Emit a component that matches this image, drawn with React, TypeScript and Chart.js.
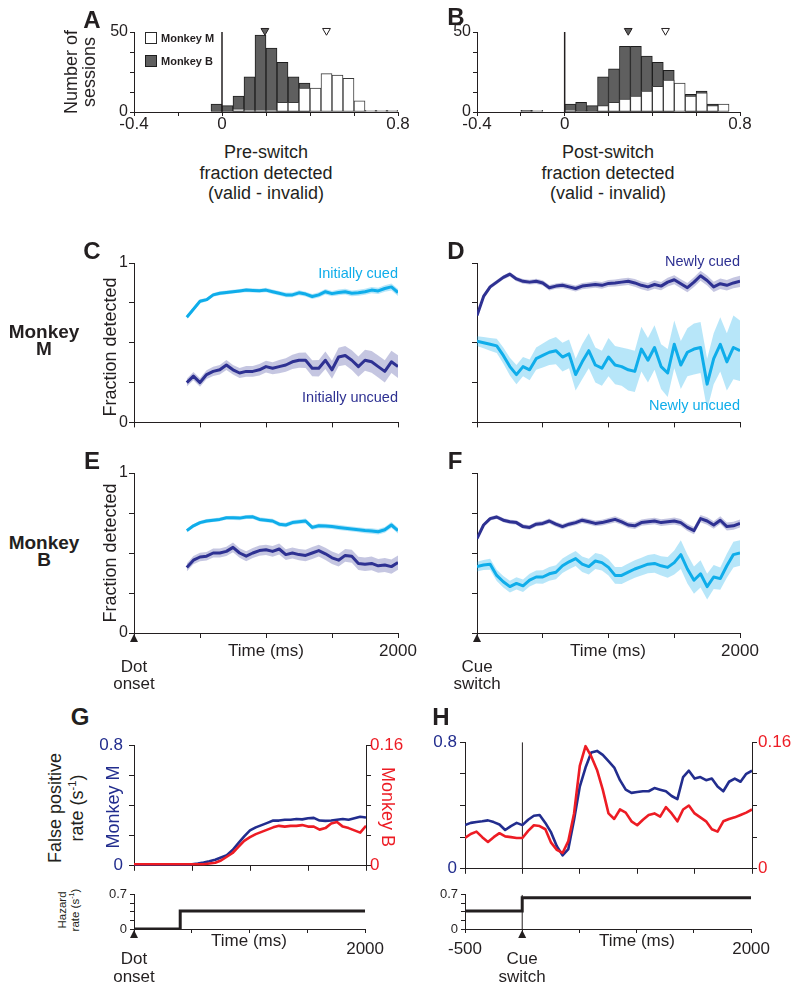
import React, { useEffect, useRef } from "react";
import { Chart, registerables } from "chart.js";

Chart.register(...registerables);

const FONT = "'Liberation Sans', Arial, Helvetica, sans-serif";
const INK = "#231f20";
const CYAN = "#0fadea";
const NAVY = "#2e3192";
const CYAN_BAND = "rgba(15,173,234,0.30)";
const NAVY_BAND = "rgba(46,49,146,0.28)";
const BLUE = "#222d8e";
const RED = "#ed1c24";
const GRAY_BAR = "#5f5f5f";

// ---------- A / B : histograms ----------
const histTicksX = [-0.4, -0.2, 0, 0.2, 0.4, 0.6, 0.8];
const histLabelsX = ["-0.4", "", "0", "", "", "", "0.8"];
const histTicksY = [0, 12.5, 25, 37.5, 50];
const histLabelsY = ["0", "", "", "", "50"];

const binsA = [-0.025, 0.025, 0.075, 0.125, 0.175, 0.225, 0.275, 0.325, 0.375, 0.425, 0.475, 0.525, 0.575, 0.625, 0.675, 0.725, 0.775];
const preSwitchB = [5, 4, 10, 22, 48, 40, 31, 22, 18, 0, 0, 0, 0, 0, 0, 0, 0];
const preSwitchM = [0, 0, 2, 1, 1, 1, 6, 6, 15, 15, 24, 23, 21, 7, 1, 1, 1];
const preMeanB = 0.195;
const preMeanM = 0.475;

const binsB = [-0.175, -0.125, -0.075, -0.025, 0.025, 0.075, 0.125, 0.175, 0.225, 0.275, 0.325, 0.375, 0.425, 0.475, 0.525, 0.575, 0.625, 0.675, 0.725];
const postSwitchB = [1, 0, 0, 0, 5, 6, 4, 22, 27, 41, 41, 35, 31, 26, 0, 11, 13, 5, 0];
const postSwitchM = [0, 1, 0, 0, 1, 0, 0, 4, 6, 8, 10, 13, 16, 20, 18, 10, 12, 4, 5];
const postMeanB = 0.29;
const postMeanM = 0.46;

// ---------- C-F : fraction detected ----------
const timeTicks = [0, 500, 1000, 1500, 2000];
const timeLabelsNone = ["", "", "", "", ""];
const timeLabelsEnd = ["", "", "", "", "2000"];
const fracTicks = [0, 0.25, 0.5, 0.75, 1];
const fracLabels = ["0", "", "", "", "1"];
const fracLabelsNone = ["", "", "", "", ""];

const tPre = [400, 450, 500, 550, 600, 650, 700, 750, 800, 850, 900, 950, 1000, 1050, 1100, 1150, 1200, 1250, 1300, 1350, 1400, 1450, 1500, 1550, 1600, 1650, 1700, 1750, 1800, 1850, 1900, 1950, 2000];
const tPost = [0, 50, 100, 150, 200, 250, 300, 350, 400, 450, 500, 550, 600, 650, 700, 750, 800, 850, 900, 950, 1000, 1050, 1100, 1150, 1200, 1250, 1300, 1350, 1400, 1450, 1500, 1550, 1600, 1650, 1700, 1750, 1800, 1850, 1900, 1950, 2000];

// C: Monkey M, pre-switch
const mInitCued = [0.66, 0.71, 0.76, 0.77, 0.8, 0.81, 0.815, 0.82, 0.825, 0.83, 0.828, 0.826, 0.83, 0.82, 0.81, 0.8, 0.8, 0.813, 0.805, 0.79, 0.8, 0.82, 0.808, 0.815, 0.82, 0.81, 0.813, 0.82, 0.83, 0.825, 0.84, 0.85, 0.815];
const mInitCuedErr = [0.012, 0.012, 0.012, 0.011, 0.012, 0.012, 0.013, 0.012, 0.012, 0.013, 0.013, 0.013, 0.014, 0.014, 0.014, 0.015, 0.015, 0.016, 0.015, 0.016, 0.016, 0.017, 0.017, 0.018, 0.018, 0.018, 0.019, 0.019, 0.02, 0.02, 0.021, 0.022, 0.022];
const mInitUncued = [0.25, 0.29, 0.25, 0.3, 0.32, 0.33, 0.36, 0.33, 0.31, 0.32, 0.32, 0.33, 0.35, 0.34, 0.35, 0.36, 0.38, 0.39, 0.39, 0.34, 0.34, 0.39, 0.33, 0.41, 0.42, 0.39, 0.35, 0.39, 0.38, 0.35, 0.32, 0.38, 0.35];
const mInitUncuedErr = [0.024, 0.026, 0.027, 0.027, 0.029, 0.03, 0.031, 0.03, 0.032, 0.034, 0.034, 0.036, 0.037, 0.038, 0.041, 0.043, 0.045, 0.047, 0.048, 0.05, 0.052, 0.055, 0.056, 0.058, 0.06, 0.062, 0.063, 0.066, 0.068, 0.069, 0.07, 0.07, 0.071];

// D: Monkey M, post-switch
const mNewCued = [0.67, 0.79, 0.85, 0.88, 0.91, 0.93, 0.9, 0.885, 0.88, 0.885, 0.875, 0.845, 0.855, 0.86, 0.85, 0.84, 0.855, 0.86, 0.865, 0.86, 0.872, 0.875, 0.88, 0.885, 0.875, 0.86, 0.85, 0.865, 0.855, 0.88, 0.895, 0.87, 0.845, 0.88, 0.92, 0.89, 0.85, 0.87, 0.86, 0.875, 0.885];
const mNewCuedErr = [0.012, 0.012, 0.013, 0.013, 0.013, 0.014, 0.014, 0.015, 0.015, 0.016, 0.016, 0.017, 0.017, 0.018, 0.018, 0.019, 0.019, 0.02, 0.02, 0.021, 0.021, 0.022, 0.022, 0.023, 0.024, 0.024, 0.025, 0.026, 0.026, 0.027, 0.028, 0.028, 0.029, 0.03, 0.031, 0.031, 0.032, 0.033, 0.033, 0.034, 0.035];
const mNewUncued = [0.51, 0.5, 0.49, 0.48, 0.42, 0.35, 0.3, 0.35, 0.33, 0.4, 0.42, 0.44, 0.45, 0.41, 0.43, 0.3, 0.38, 0.45, 0.36, 0.34, 0.41, 0.36, 0.35, 0.33, 0.32, 0.46, 0.39, 0.47, 0.35, 0.31, 0.49, 0.36, 0.44, 0.46, 0.47, 0.24, 0.4, 0.49, 0.38, 0.47, 0.45];
const mNewUncuedErr = [0.03, 0.035, 0.04, 0.045, 0.05, 0.055, 0.06, 0.06, 0.065, 0.07, 0.075, 0.08, 0.085, 0.09, 0.09, 0.1, 0.11, 0.11, 0.11, 0.11, 0.12, 0.12, 0.12, 0.13, 0.13, 0.14, 0.14, 0.14, 0.14, 0.15, 0.15, 0.15, 0.15, 0.16, 0.16, 0.16, 0.16, 0.17, 0.18, 0.2, 0.19];

// E: Monkey B, pre-switch
const bInitCued = [0.64, 0.67, 0.69, 0.7, 0.705, 0.71, 0.72, 0.72, 0.718, 0.725, 0.726, 0.71, 0.705, 0.7, 0.68, 0.675, 0.69, 0.695, 0.7, 0.66, 0.67, 0.668, 0.665, 0.66, 0.655, 0.65, 0.645, 0.64, 0.638, 0.633, 0.645, 0.675, 0.64];
const bInitCuedErr = [0.012, 0.012, 0.012, 0.012, 0.012, 0.012, 0.012, 0.013, 0.013, 0.013, 0.013, 0.013, 0.013, 0.014, 0.014, 0.014, 0.014, 0.014, 0.015, 0.015, 0.015, 0.015, 0.015, 0.016, 0.016, 0.016, 0.016, 0.017, 0.017, 0.017, 0.018, 0.018, 0.018];
const bInitUncued = [0.41, 0.455, 0.475, 0.48, 0.5, 0.5, 0.51, 0.535, 0.5, 0.48, 0.5, 0.515, 0.52, 0.51, 0.525, 0.49, 0.5, 0.49, 0.485, 0.5, 0.515, 0.495, 0.47, 0.455, 0.485, 0.48, 0.435, 0.43, 0.435, 0.42, 0.425, 0.415, 0.44];
const bInitUncuedErr = [0.025, 0.026, 0.027, 0.027, 0.028, 0.028, 0.029, 0.03, 0.03, 0.031, 0.031, 0.032, 0.032, 0.033, 0.034, 0.034, 0.035, 0.035, 0.036, 0.037, 0.037, 0.038, 0.039, 0.039, 0.04, 0.041, 0.041, 0.042, 0.043, 0.043, 0.044, 0.045, 0.045];

// F: Monkey B, post-switch
const bNewCued = [0.59, 0.675, 0.715, 0.725, 0.705, 0.695, 0.69, 0.665, 0.66, 0.68, 0.685, 0.7, 0.68, 0.665, 0.68, 0.69, 0.705, 0.695, 0.685, 0.69, 0.7, 0.71, 0.695, 0.675, 0.67, 0.69, 0.695, 0.7, 0.69, 0.695, 0.7, 0.69, 0.66, 0.64, 0.715, 0.7, 0.675, 0.705, 0.665, 0.67, 0.685];
const bNewCuedErr = [0.012, 0.012, 0.012, 0.013, 0.013, 0.013, 0.014, 0.014, 0.014, 0.015, 0.015, 0.015, 0.016, 0.016, 0.016, 0.017, 0.017, 0.017, 0.018, 0.018, 0.018, 0.019, 0.019, 0.019, 0.02, 0.02, 0.02, 0.021, 0.021, 0.021, 0.022, 0.022, 0.023, 0.023, 0.023, 0.024, 0.024, 0.024, 0.025, 0.025, 0.025];
const bNewUncued = [0.415, 0.425, 0.43, 0.36, 0.32, 0.29, 0.31, 0.295, 0.33, 0.35, 0.35, 0.37, 0.38, 0.42, 0.445, 0.465, 0.43, 0.415, 0.45, 0.44, 0.41, 0.36, 0.36, 0.38, 0.4, 0.415, 0.43, 0.435, 0.42, 0.41, 0.44, 0.49, 0.4, 0.33, 0.37, 0.29, 0.35, 0.34, 0.42, 0.49, 0.5];
const bNewUncuedErr = [0.03, 0.032, 0.034, 0.035, 0.036, 0.037, 0.038, 0.039, 0.04, 0.041, 0.042, 0.043, 0.044, 0.045, 0.046, 0.047, 0.048, 0.049, 0.05, 0.05, 0.051, 0.052, 0.053, 0.054, 0.055, 0.056, 0.057, 0.058, 0.06, 0.065, 0.075, 0.09, 0.09, 0.085, 0.085, 0.08, 0.075, 0.07, 0.075, 0.08, 0.08];

// ---------- G / H : false positive rates and hazard ----------
const rateMTicks = [0, 0.2, 0.4, 0.6, 0.8];
const rateMLabels = ["0", "", "", "", "0.8"];
const rateBTicks = [0, 0.04, 0.08, 0.12, 0.16];
const rateBLabels = ["0", "", "", "", "0.16"];
const hazTicks = [0, 0.175, 0.35, 0.525, 0.7];
const hazLabels = ["0", "", "", "", "0.7"];
const switchTicks = [-500, 0, 500, 1000, 1500, 2000];
const switchLabelsNone = ["", "", "", "", "", ""];
const switchLabels = ["-500", "", "", "", "", "2000"];

const tOnset = tPost;
const fpOnsetM = [0.005, 0.005, 0.005, 0.005, 0.005, 0.005, 0.005, 0.005, 0.005, 0.005, 0.01, 0.015, 0.022, 0.03, 0.04, 0.055, 0.07, 0.105, 0.15, 0.195, 0.235, 0.255, 0.27, 0.285, 0.3, 0.3, 0.305, 0.305, 0.31, 0.308, 0.315, 0.318, 0.3, 0.298, 0.3, 0.305, 0.31, 0.305, 0.315, 0.325, 0.32];
const fpOnsetB = [0.002, 0.002, 0.002, 0.002, 0.002, 0.002, 0.002, 0.002, 0.002, 0.002, 0.002, 0.002, 0.002, 0.003, 0.004, 0.007, 0.012, 0.017, 0.025, 0.033, 0.038, 0.042, 0.045, 0.048, 0.051, 0.053, 0.052, 0.053, 0.053, 0.054, 0.052, 0.052, 0.048, 0.05, 0.056, 0.058, 0.052, 0.05, 0.047, 0.044, 0.053];

const tSwitch = [-500, -450, -400, -350, -300, -250, -200, -150, -100, -50, 0, 50, 100, 150, 200, 250, 300, 350, 400, 450, 500, 550, 600, 650, 700, 750, 800, 850, 900, 950, 1000, 1050, 1100, 1150, 1200, 1250, 1300, 1350, 1400, 1450, 1500, 1550, 1600, 1650, 1700, 1750, 1800, 1850, 1900, 1950, 2000];
const fpSwitchM = [0.276, 0.29, 0.296, 0.3, 0.306, 0.295, 0.28, 0.245, 0.27, 0.29, 0.276, 0.31, 0.335, 0.34, 0.29, 0.23, 0.143, 0.085, 0.125, 0.31, 0.52, 0.64, 0.735, 0.745, 0.72, 0.68, 0.64, 0.56, 0.5, 0.48, 0.485, 0.49, 0.49, 0.51, 0.5, 0.49, 0.46, 0.44, 0.58, 0.62, 0.57, 0.58, 0.56, 0.57, 0.52, 0.49, 0.55, 0.57, 0.55, 0.6, 0.62];
const fpSwitchB = [0.039, 0.044, 0.047, 0.04, 0.034, 0.04, 0.045, 0.041, 0.04, 0.039, 0.039, 0.048, 0.055, 0.054, 0.05, 0.033, 0.024, 0.02, 0.035, 0.07, 0.13, 0.155, 0.142, 0.125, 0.1, 0.07, 0.063, 0.075, 0.071, 0.06, 0.055, 0.062, 0.068, 0.07, 0.066, 0.078, 0.07, 0.06, 0.075, 0.08, 0.07, 0.065, 0.06, 0.05, 0.047, 0.06, 0.063, 0.065, 0.068, 0.071, 0.075];

const hazOnsetT = [0, 400, 400, 2000];
const hazOnsetV = [0, 0, 0.37, 0.37];
const hazSwitchT = [-500, 0, 0, 2000];
const hazSwitchV = [0.37, 0.37, 0.64, 0.64];

// ---------- helpers ----------
type Box = { l: number; t: number; r: number; b: number };

const pts = (xs: number[], ys: (number | null)[]) => xs.map((x, i) => ({ x, y: ys[i] }));

function scale(o: {
  pos: string; min: number; max: number; ticks: number[]; labels: string[]; size: number;
  color?: string; font?: number; pad?: number; tl?: number;
}) {
  const horiz = o.pos === "bottom";
  return {
    type: "linear",
    position: o.pos,
    min: o.min,
    max: o.max,
    offset: false,
    afterBuildTicks: (s: any) => {
      s.ticks = o.ticks.map((v) => ({ value: v }));
    },
    afterFit: (s: any) => {
      if (horiz) s.height = o.size;
      else s.width = o.size;
    },
    border: { display: true, color: INK, width: 1 },
    grid: { display: true, drawOnChartArea: false, drawTicks: true, tickLength: o.tl ?? 5, color: INK, tickColor: INK, tickWidth: 1, offset: false },
    ticks: {
      autoSkip: false, maxRotation: 0, minRotation: 0, padding: o.pad ?? 3,
      color: o.color ?? INK, font: { family: FONT, size: o.font ?? 16 },
      callback: (_v: any, i: number) => o.labels[i] ?? "",
    },
  };
}

function baseOptions(m: Box, scales: any, rightAxis: boolean, plugins: any = {}) {
  return {
    animation: false,
    responsive: false,
    devicePixelRatio: 1,
    events: [],
    layout: { autoPadding: false, padding: { left: 0, top: m.t, right: rightAxis ? 0 : m.r, bottom: 0 } },
    plugins: { legend: { display: false }, tooltip: { enabled: false }, ...plugins },
    scales,
  };
}

const onsetArrow = {
  id: "onsetArrow",
  afterDraw(chart: any, _a: any, opts: any) {
    if (opts == null || opts.at == null) return;
    const x = chart.scales.x.getPixelForValue(opts.at);
    const y = chart.chartArea.bottom;
    const ctx = chart.ctx;
    ctx.save();
    ctx.fillStyle = INK;
    ctx.beginPath();
    ctx.moveTo(x, y + 1);
    ctx.lineTo(x - 4, y + 9);
    ctx.lineTo(x + 4, y + 9);
    ctx.closePath();
    ctx.fill();
    ctx.restore();
  },
};

function line(xs: number[], ys: number[], color: string, width: number, yAxisID = "y") {
  return { type: "line", data: pts(xs, ys), borderColor: color, borderWidth: width, pointRadius: 0, fill: false, tension: 0, yAxisID, borderJoinStyle: "round" };
}

function band(xs: number[], ys: number[], err: number[], color: string) {
  return [
    { type: "line", data: pts(xs, ys.map((v, i) => v - err[i])), borderColor: "transparent", borderWidth: 0, pointRadius: 0, fill: false, tension: 0 },
    { type: "line", data: pts(xs, ys.map((v, i) => v + err[i])), borderColor: "transparent", borderWidth: 0, pointRadius: 0, fill: "-1", backgroundColor: color, tension: 0 },
  ];
}

function ChartPanel({ area, margin, config }: { area: Box; margin: Box; config: () => any }) {
  const ref = useRef<HTMLCanvasElement>(null);
  const w = area.r - area.l + margin.l + margin.r;
  const h = area.b - area.t + margin.t + margin.b;
  useEffect(() => {
    const chart = new Chart(ref.current as HTMLCanvasElement, config());
    return () => chart.destroy();
  }, []);
  return (
    <canvas
      ref={ref}
      width={w}
      height={h}
      style={{ position: "absolute", left: area.l - margin.l, top: area.t - margin.t, width: w, height: h }}
    />
  );
}

function Txt(p: { x: number; y: number; size?: number; color?: string; bold?: boolean; align?: string; rot?: number; lh?: number; children: any }) {
  const tx = p.align === "right" ? "-100%" : p.align === "left" ? "0%" : "-50%";
  return (
    <div
      style={{
        position: "absolute", left: p.x, top: p.y,
        transform: `translate(${tx},-50%) rotate(${p.rot ?? 0}deg)`,
        fontFamily: FONT, fontSize: p.size ?? 16, color: p.color ?? INK,
        fontWeight: p.bold ? 700 : 400, lineHeight: p.lh ? `${p.lh}px` : 1.15,
        whiteSpace: "nowrap", textAlign: "center",
      }}
    >
      {p.children}
    </div>
  );
}

const Sup = ({ children }: any) => (
  <span style={{ fontSize: "0.62em", verticalAlign: "super", lineHeight: 0 }}>{children}</span>
);

// ---------- chart configurations ----------
function histConfig(m: Box, bins: number[], countsB: number[], countsM: number[], meanB: number, meanM: number) {
  return () => ({
    type: "bar",
    data: {
      datasets: [
        {
          type: "line", data: [{ x: meanB, y: 50.8 }], showLine: false, pointStyle: "triangle", rotation: 180,
          pointRadius: 4.5, pointBackgroundColor: GRAY_BAR, pointBorderColor: INK, pointBorderWidth: 1, clip: false,
        },
        {
          type: "line", data: [{ x: meanM, y: 50.8 }], showLine: false, pointStyle: "triangle", rotation: 180,
          pointRadius: 4.5, pointBackgroundColor: "#fff", pointBorderColor: INK, pointBorderWidth: 1, clip: false,
        },
        { type: "line", data: [{ x: 0, y: 0 }, { x: 0, y: 50 }], borderColor: INK, borderWidth: 1.5, pointRadius: 0 },
        {
          type: "bar", data: pts(bins, countsM.map((v) => (v > 0 ? v : null))), backgroundColor: "#ffffff",
          borderColor: "#3a3a3a", borderWidth: 1, borderSkipped: false, grouped: false, barPercentage: 1, categoryPercentage: 1,
        },
        {
          type: "bar", data: pts(bins, countsB.map((v) => (v > 0 ? v : null))), backgroundColor: GRAY_BAR,
          borderColor: "#1e1e1e", borderWidth: 1, borderSkipped: false, grouped: false, barPercentage: 1, categoryPercentage: 1,
        },
      ],
    },
    options: baseOptions(m, {
      x: scale({ pos: "bottom", min: -0.4, max: 0.8, ticks: histTicksX, labels: histLabelsX, size: m.b, font: 17, tl: 4, pad: -2 }),
      y: scale({ pos: "left", min: 0, max: 50, ticks: histTicksY, labels: histLabelsY, size: m.l, font: 16, tl: 4, pad: 2 }),
    }, false),
  });
}

function fracConfig(m: Box, xs: number[], cued: number[], cuedErr: number[], cuedColor: string, cuedBand: string,
  other: number[], otherErr: number[], otherColor: string, otherBand: string, yLabels: string[], xLabels: string[], arrow: boolean) {
  return () => ({
    type: "line",
    data: {
      datasets: [
        line(xs, cued, cuedColor, 3),
        line(xs, other, otherColor, 3),
        ...band(xs, cued, cuedErr, cuedBand),
        ...band(xs, other, otherErr, otherBand),
      ],
    },
    options: baseOptions(m, {
      x: scale({ pos: "bottom", min: 0, max: 2000, ticks: timeTicks, labels: xLabels, size: m.b, font: 17, tl: 5, pad: 3 }),
      y: scale({ pos: "left", min: 0, max: 1, ticks: fracTicks, labels: yLabels, size: m.l, font: 16, tl: 5, pad: 1 }),
    }, false, arrow ? { onsetArrow: { at: 0 } } : {}),
    plugins: [onsetArrow],
  });
}

function rateConfig(m: Box, xs: number[], mVals: number[], bVals: number[], min: number, xTicks: number[], leftPad: number, rightPad: number, zeroLine: boolean) {
  return () => ({
    type: "line",
    data: {
      datasets: [
        line(xs, bVals, RED, 2.6, "y2"),
        line(xs, mVals, BLUE, 2.6, "y"),
        ...(zeroLine ? [{ type: "line", data: [{ x: 0, y: 0 }, { x: 0, y: 0.8 }], borderColor: INK, borderWidth: 1, pointRadius: 0, yAxisID: "y" }] : []),
      ],
    },
    options: baseOptions(m, {
      x: scale({ pos: "bottom", min, max: 2000, ticks: xTicks, labels: xTicks.map(() => ""), size: m.b, tl: 5 }),
      y: scale({ pos: "left", min: 0, max: 0.8, ticks: rateMTicks, labels: rateMLabels, size: m.l, color: BLUE, font: 17, tl: 5, pad: leftPad }),
      y2: scale({ pos: "right", min: 0, max: 0.16, ticks: rateBTicks, labels: rateBLabels, size: m.r, color: RED, font: 17, tl: 5, pad: rightPad }),
    }, true),
  });
}

function hazardConfig(m: Box, ht: number[], hv: number[], min: number, xTicks: number[], xLabels: string[], zeroLine: boolean) {
  return () => ({
    type: "line",
    data: {
      datasets: [
        { type: "line", data: pts(ht, hv), borderColor: INK, borderWidth: 3, pointRadius: 0, fill: false, tension: 0, borderJoinStyle: "miter" },
        ...(zeroLine ? [{ type: "line", data: [{ x: 0, y: 0 }, { x: 0, y: 0.7 }], borderColor: INK, borderWidth: 1, pointRadius: 0 }] : []),
      ],
    },
    options: baseOptions(m, {
      x: scale({ pos: "bottom", min, max: 2000, ticks: xTicks, labels: xLabels, size: m.b, font: 17, tl: 4, pad: 6 }),
      y: scale({ pos: "left", min: 0, max: 0.7, ticks: hazTicks, labels: hazLabels, size: m.l, font: 13, tl: 4, pad: 3 }),
    }, false, { onsetArrow: { at: 0 } }),
    plugins: [onsetArrow],
  });
}

// ---------- layout ----------
const areaA = { l: 134, t: 32, r: 398, b: 112 };
const areaB = { l: 477, t: 32, r: 740, b: 112 };
const mHist = { l: 40, t: 14, r: 22, b: 30 };
const areaC = { l: 134, t: 263, r: 398, b: 423 };
const areaD = { l: 477, t: 263, r: 740, b: 423 };
const mTop = { l: 40, t: 12, r: 20, b: 10 };
const areaE = { l: 134, t: 473, r: 398, b: 633 };
const areaF = { l: 477, t: 473, r: 740, b: 633 };
const mBot = { l: 40, t: 12, r: 24, b: 30 };
const areaG = { l: 134, t: 741, r: 366, b: 872 };
const areaH = { l: 465, t: 741, r: 752, b: 872 };
const mRate = { l: 40, t: 12, r: 45, b: 10 };
const areaGh = { l: 134, t: 892, r: 366, b: 929 };
const areaHh = { l: 465, t: 892, r: 752, b: 929 };
const mHaz = { l: 40, t: 8, r: 24, b: 30 };

export default function App() {
  return (
    <div style={{ position: "absolute", left: 0, top: 0, width: 800, height: 991, background: "#fff", overflow: "hidden", fontFamily: FONT }}>
      <ChartPanel area={areaA} margin={mHist} config={histConfig(mHist, binsA, preSwitchB, preSwitchM, preMeanB, preMeanM)} />
      <ChartPanel area={areaB} margin={mHist} config={histConfig(mHist, binsB, postSwitchB, postSwitchM, postMeanB, postMeanM)} />

      <ChartPanel area={areaC} margin={mTop} config={fracConfig(mTop, tPre, mInitCued, mInitCuedErr, CYAN, CYAN_BAND, mInitUncued, mInitUncuedErr, NAVY, NAVY_BAND, fracLabels, timeLabelsNone, false)} />
      <ChartPanel area={areaD} margin={mTop} config={fracConfig(mTop, tPost, mNewCued, mNewCuedErr, NAVY, NAVY_BAND, mNewUncued, mNewUncuedErr, CYAN, CYAN_BAND, fracLabelsNone, timeLabelsNone, false)} />
      <ChartPanel area={areaE} margin={mBot} config={fracConfig(mBot, tPre, bInitCued, bInitCuedErr, CYAN, CYAN_BAND, bInitUncued, bInitUncuedErr, NAVY, NAVY_BAND, fracLabels, timeLabelsEnd, true)} />
      <ChartPanel area={areaF} margin={mBot} config={fracConfig(mBot, tPost, bNewCued, bNewCuedErr, NAVY, NAVY_BAND, bNewUncued, bNewUncuedErr, CYAN, CYAN_BAND, fracLabelsNone, timeLabelsEnd, true)} />

      <ChartPanel area={areaG} margin={mRate} config={rateConfig(mRate, tOnset, fpOnsetM, fpOnsetB, 0, timeTicks, 6, -1, false)} />
      <ChartPanel area={areaH} margin={mRate} config={rateConfig(mRate, tSwitch, fpSwitchM, fpSwitchB, -500, switchTicks, 3, 1, true)} />
      <ChartPanel area={areaGh} margin={mHaz} config={hazardConfig(mHaz, hazOnsetT, hazOnsetV, 0, timeTicks, timeLabelsEnd, false)} />
      <ChartPanel area={areaHh} margin={mHaz} config={hazardConfig(mHaz, hazSwitchT, hazSwitchV, -500, switchTicks, switchLabels, true)} />

      {/* panel letters */}
      <Txt x={92} y={20} size={24} bold>A</Txt>
      <Txt x={456} y={17} size={24} bold>B</Txt>
      <Txt x={92} y={251} size={24} bold>C</Txt>
      <Txt x={456} y={251} size={24} bold>D</Txt>
      <Txt x={92} y={461} size={24} bold>E</Txt>
      <Txt x={455} y={461} size={24} bold>F</Txt>
      <Txt x={80} y={717} size={24} bold>G</Txt>
      <Txt x={441} y={717} size={24} bold>H</Txt>

      {/* A / B */}
      <Txt x={80} y={72} size={18} rot={-90} lh={18}>Number of<br />sessions</Txt>
      <div style={{ position: "absolute", left: 145, top: 32, width: 10, height: 10, border: "1px solid #2a2a2a", background: "#fff" }} />
      <div style={{ position: "absolute", left: 145, top: 55, width: 10, height: 10, border: "1px solid #1e1e1e", background: GRAY_BAR }} />
      <Txt x={161} y={37.5} size={11} bold align="left">Monkey M</Txt>
      <Txt x={161} y={61} size={11} bold align="left">Monkey B</Txt>
      <Txt x={266} y={173} size={18} lh={20.5}>Pre-switch<br />fraction detected<br />(valid - invalid)</Txt>
      <Txt x={608} y={173} size={18} lh={20.5}>Post-switch<br />fraction detected<br />(valid - invalid)</Txt>

      {/* C-F */}
      <Txt x={44} y={340} size={19} bold lh={17}>Monkey<br />M</Txt>
      <Txt x={44} y={551} size={19} bold lh={17}>Monkey<br />B</Txt>
      <Txt x={110} y={347} size={18} rot={-90}>Fraction detected</Txt>
      <Txt x={110} y={553} size={18} rot={-90}>Fraction detected</Txt>
      <Txt x={398} y={273} size={14.5} color={CYAN} align="right">Initially cued</Txt>
      <Txt x={398} y={397} size={14.5} color={NAVY} align="right">Initially uncued</Txt>
      <Txt x={740} y={261} size={14.5} color={NAVY} align="right">Newly cued</Txt>
      <Txt x={740} y={405} size={14.5} color={CYAN} align="right">Newly uncued</Txt>
      <Txt x={266} y={651} size={17}>Time (ms)</Txt>
      <Txt x={608} y={651} size={17}>Time (ms)</Txt>
      <Txt x={134} y={675} size={17} lh={17}>Dot<br />onset</Txt>
      <Txt x={477} y={675} size={17} lh={17}>Cue<br />switch</Txt>

      {/* G / H */}
      <Txt x={66} y={808} size={18} rot={-90} lh={22}>False positive<br />rate (s<Sup>-1</Sup>)</Txt>
      <Txt x={113} y={807} size={18} rot={-90} color={BLUE}>Monkey M</Txt>
      <Txt x={388} y={807} size={18} rot={90} color={RED}>Monkey B</Txt>
      <Txt x={69} y={910} size={11.5} rot={-90} lh={13}>Hazard<br />rate (s<Sup>-1</Sup>)</Txt>
      <Txt x={249} y={941} size={17}>Time (ms)</Txt>
      <Txt x={637} y={941} size={17}>Time (ms)</Txt>
      <Txt x={134} y={968} size={17} lh={18}>Dot<br />onset</Txt>
      <Txt x={522} y={968} size={17} lh={18}>Cue<br />switch</Txt>
    </div>
  );
}
